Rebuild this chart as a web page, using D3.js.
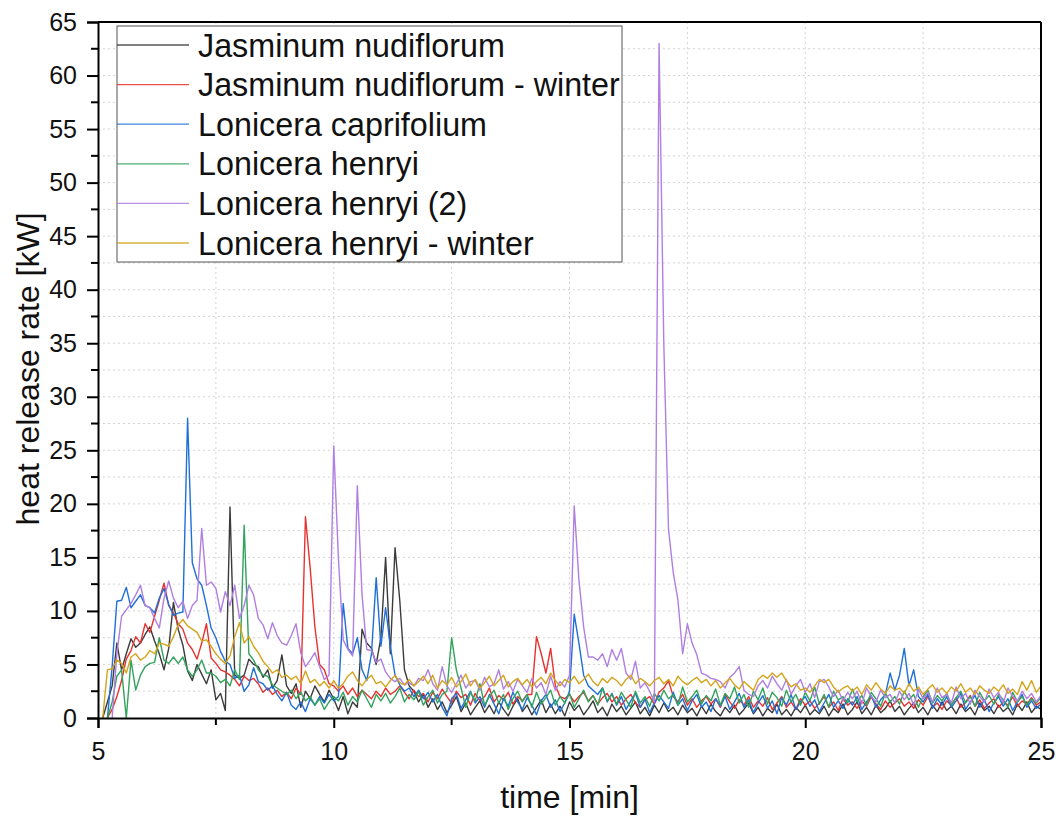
<!DOCTYPE html>
<html><head><meta charset="utf-8">
<script src="https://cdn.jsdelivr.net/npm/d3@7"></script>
<style>
html,body{margin:0;padding:0;background:#fff;}
svg{display:block;font-family:"Liberation Sans",Arial,sans-serif;}
</style></head><body>
<svg id="chart" width="1060" height="818"></svg>
<script>
// sampling grid: 5.0 … 25.0 min, every 0.1 min (one row = one minute)
const tStart = 5.0, tStep = 0.1;

const seriesNames = ["Jasminum nudiflorum","Jasminum nudiflorum - winter","Lonicera caprifolium","Lonicera henryi","Lonicera henryi (2)","Lonicera henryi - winter"];
const seriesColors = ["#3b3b3b","#e8322f","#1f6fd9","#31a35c","#b07fe2","#d4a41c"];

const jasminum = [
 null,0,1.5,3.0,7.0,4.5,6.0,7.4,6.6,7.0,
 7.8,8.5,7.2,6.0,4.5,6.5,10.8,8.3,6.8,4.4,
 3.5,5.0,4.1,3.2,4.5,1.7,2.3,0.7,19.7,4.0,
 3.7,4.0,5.5,5.0,4.8,3.8,4.5,2.8,3.5,5.9,
 3.0,2.3,3.2,1.0,2.5,1.8,3.0,2.2,1.5,2.6,
 1.8,0.7,2.0,0.4,1.5,1.0,8.3,7.0,6.5,5.0,
 7.5,15.0,6.0,15.9,11.0,4.5,3.0,2.5,1.5,2.2,
 1.0,1.8,0.8,1.5,0.5,1.2,2.0,0.6,1.4,0.3,
 1.0,1.6,0.5,1.2,0.4,1.5,0.8,0.2,1.1,1.8,
 0.6,1.2,0.3,1.0,1.7,0.5,1.3,0.4,1.1,0.2,
 1.5,0.7,1.2,0.3,0.9,1.6,0.5,1.0,0.2,1.3,
 0.6,1.1,0.3,0.9,1.5,0.4,1.0,0.2,1.2,0.5,
 1.4,0.6,1.0,0.3,1.2,0.5,0.9,0.2,1.1,0.4,
 1.3,0.6,0.2,1.0,0.5,1.2,0.3,0.8,1.4,0.4,
 1.0,0.2,0.9,0.5,1.3,0.3,0.8,0.2,1.0,0.5,
 1.2,0.3,0.8,0.4,1.1,0.2,0.9,0.5,1.3,0.3,
 0.8,1.5,0.4,1.0,0.3,1.2,0.5,0.9,1.6,0.6,
 1.1,0.3,0.9,1.4,0.5,1.0,0.3,1.2,0.6,1.5,
 0.7,1.1,0.4,1.3,0.6,1.0,0.3,1.4,0.7,1.1,
 0.4,1.2,0.6,1.0,0.3,1.3,0.7,1.5,0.5,1.1,
 0.8];

const jasminumWinter = [
 null,null,0,0.8,2.0,3.5,5.5,6.3,7.6,7.0,
 8.8,8.0,9.5,11.0,12.6,10.5,9.8,8.8,8.3,7.0,
 6.4,5.5,7.0,8.8,5.6,5.1,4.5,4.3,4.0,3.6,
 3.0,3.9,3.5,3.7,3.2,2.4,2.8,2.2,2.6,2.0,
 2.4,1.8,2.8,2.2,18.8,14.0,8.5,5.0,4.5,3.2,
 3.0,2.5,3.0,2.2,2.8,2.0,2.6,2.2,1.8,2.5,
 2.0,2.8,2.2,2.5,3.0,2.4,1.8,2.6,2.0,2.3,
 1.5,2.4,1.8,2.7,2.0,1.4,2.5,1.9,2.2,1.2,
 2.3,1.6,2.0,2.8,1.5,2.1,1.7,2.4,1.3,2.0,
 1.6,2.2,2.2,7.6,6.0,4.2,6.5,3.0,2.0,1.8,
 2.2,1.5,2.0,2.4,1.6,2.1,1.3,1.9,2.3,1.5,
 2.0,1.2,1.8,2.2,1.4,1.0,1.7,2.0,1.3,2.4,
 2.8,3.5,2.0,1.5,2.2,1.2,1.8,1.0,1.6,2.0,
 1.3,1.8,1.0,2.2,1.5,0.9,1.7,1.2,2.0,1.0,
 1.6,1.1,1.9,0.8,1.4,2.0,1.0,1.5,0.8,1.8,
 1.2,1.6,0.9,1.4,2.0,1.0,1.5,0.7,1.8,1.2,
 1.5,0.9,1.6,1.1,2.0,1.3,0.8,1.6,1.0,1.4,
 1.8,1.1,1.5,0.9,1.7,1.2,2.0,1.0,1.4,0.8,
 1.6,1.2,1.9,1.0,1.5,2.1,1.1,1.7,0.9,1.4,
 1.8,1.0,1.5,1.2,2.0,1.1,1.6,1.3,1.9,1.2,
 1.5];

const caprifolium = [
 null,null,0,4.8,10.9,11.0,12.2,10.3,10.9,11.5,
 10.5,10.3,9.8,11.2,12.1,10.6,9.6,9.8,9.9,28.0,
 14.5,13.0,12.4,10.5,8.4,7.5,6.2,5.3,5.0,3.7,
 4.0,2.5,3.1,4.7,3.4,3.2,2.6,3.0,2.2,1.6,
 2.4,1.2,0.8,1.5,0.6,1.8,1.2,2.0,1.4,2.2,
 1.6,2.0,10.7,6.5,6.0,7.5,4.5,3.5,6.0,13.1,
 6.7,10.3,6.7,4.0,3.1,2.5,2.8,2.0,2.6,1.8,
 2.4,1.5,2.2,1.0,0.2,1.8,2.3,0.9,1.7,2.5,
 1.4,2.0,1.0,2.2,1.3,0.4,1.8,1.1,2.4,1.5,
 0.8,1.9,1.2,0.3,1.6,2.2,1.0,1.7,0.6,1.4,
 2.5,9.7,7.0,4.0,3.0,2.6,2.2,2.8,1.5,2.3,
 1.2,2.0,0.8,1.6,2.3,1.0,1.8,0.5,1.4,2.1,
 1.5,0.9,2.4,1.2,1.8,0.7,1.6,2.2,1.0,1.5,
 0.6,1.8,1.1,2.0,0.8,1.5,2.3,1.0,1.7,0.5,
 1.4,2.1,0.9,1.6,0.4,1.9,1.2,2.2,0.8,1.5,
 2.0,1.1,1.7,0.6,1.4,2.2,1.0,1.6,0.9,1.8,
 1.2,2.0,0.8,1.5,2.1,1.0,1.7,2.2,4.2,2.6,
 4.0,6.5,3.0,4.5,2.0,1.5,2.2,0.9,1.8,1.2,
 2.0,1.0,1.6,2.3,0.8,1.5,2.1,1.0,1.7,0.6,
 1.4,2.0,1.1,1.8,0.7,1.5,2.2,1.0,1.6,0.9,
 1.3];

const henryi = [
 null,null,0,1.5,3.9,4.5,0.0,5.4,2.6,4.0,
 4.8,5.1,5.2,7.5,5.4,5.1,5.7,5.1,5.7,4.5,
 3.9,4.5,5.4,4.2,4.2,3.9,3.3,3.6,3.0,4.5,
 3.6,18.0,6.0,5.4,4.5,4.0,3.9,3.1,2.8,2.5,
 2.2,2.6,1.8,2.4,1.6,2.0,1.2,1.8,0.8,1.5,
 2.0,1.6,2.4,1.2,2.0,1.5,2.6,1.8,1.0,2.2,
 1.6,2.3,1.4,2.0,2.8,1.5,2.2,1.7,2.5,1.2,
 2.0,2.6,1.4,2.2,2.5,7.5,4.5,2.8,1.0,2.4,
 1.6,3.2,1.2,2.0,2.6,1.4,2.2,0.8,1.8,2.5,
 1.5,2.2,1.0,2.4,1.3,1.9,2.6,1.2,2.0,1.4,
 2.3,1.0,1.8,2.6,1.5,2.1,1.2,2.8,1.6,2.2,
 1.3,2.4,1.7,1.0,2.5,1.4,2.0,1.1,2.3,1.6,
 2.6,1.8,2.2,1.2,2.9,1.5,2.0,2.6,1.3,2.1,
 1.6,2.7,1.2,2.3,1.8,2.9,1.4,2.2,1.0,2.5,
 1.7,2.8,1.3,2.4,1.9,1.1,2.6,1.5,2.2,1.2,
 2.4,1.6,2.9,1.3,2.2,1.0,2.5,1.7,2.0,1.4,
 2.7,1.5,2.1,1.2,2.4,1.8,1.1,2.3,1.5,2.0,
 1.3,2.5,1.7,2.2,1.0,2.0,2.6,1.4,2.1,1.6,
 2.3,1.2,1.9,2.5,1.4,2.0,1.1,2.4,1.6,2.1,
 1.3,2.2,1.7,1.0,2.4,1.5,2.0,1.2,1.8,1.4,
 1.9];

const henryi2 = [
 null,null,null,0,6.0,9.5,10.1,10.7,11.5,12.4,
 10.5,10.3,9.3,8.4,11.2,12.8,11.2,10.3,10.9,9.3,
 10.5,11.0,17.7,12.4,12.7,12.1,9.9,11.8,10.5,12.4,
 9.3,10.5,12.4,11.5,9.3,8.7,7.4,8.9,7.7,7.0,
 6.8,7.7,8.8,6.1,4.8,5.4,6.1,4.8,3.6,4.0,
 25.4,14.8,7.3,6.4,5.8,21.7,11.5,6.4,6.3,5.2,
 5.5,4.3,3.7,3.4,3.7,3.1,3.3,3.0,3.7,3.5,
 4.5,3.2,2.6,4.8,3.0,2.4,3.2,4.0,2.8,3.4,
 3.5,2.6,3.8,2.9,3.2,4.5,2.7,3.4,2.5,3.6,
 3.0,2.4,3.7,2.8,3.3,2.2,3.9,2.6,3.4,2.9,
 4.0,19.8,12.9,8.5,5.7,5.7,5.4,6.0,4.8,6.4,
 5.4,6.5,4.2,3.6,5.3,2.8,3.3,2.5,1.5,63.0,
 35.0,17.6,13.6,11.0,6.0,8.8,7.0,5.9,4.2,4.0,
 3.7,3.6,3.4,2.8,3.8,4.2,4.8,2.6,2.2,2.0,
 3.0,3.5,2.8,3.9,3.2,2.6,3.6,2.2,3.0,3.6,
 2.4,3.2,1.9,3.4,3.6,2.9,2.0,2.6,1.6,2.4,
 1.8,2.5,1.3,2.8,2.0,1.5,2.6,1.9,2.2,1.4,
 2.5,1.7,2.3,1.2,2.7,1.8,2.4,1.5,2.8,1.9,
 2.2,1.4,2.9,1.8,2.3,1.3,2.6,2.0,1.5,2.7,
 1.9,2.4,1.4,2.8,2.0,1.6,2.5,1.8,2.3,1.5,
 2.1];

const henryiWinter = [
 null,0,4.5,4.6,5.4,5.1,4.2,5.7,6.0,5.4,
 5.7,6.3,6.0,7.0,6.9,6.7,7.6,8.7,9.2,8.6,
 8.3,8.0,7.2,7.3,6.7,6.0,5.5,5.1,5.8,7.6,
 8.9,7.0,7.6,6.7,6.1,5.3,4.8,4.2,4.5,3.8,
 4.0,3.6,3.9,3.2,4.4,3.3,3.6,3.0,3.4,2.8,
 3.5,2.8,3.2,3.9,4.3,3.5,3.0,3.6,4.0,3.2,
 3.4,2.9,3.5,4.0,3.3,3.1,3.6,3.0,3.4,3.9,
 3.2,4.0,2.8,3.5,3.1,3.8,2.9,3.4,4.1,3.0,
 3.6,2.8,3.3,3.9,3.0,3.5,4.0,2.9,3.4,3.7,
 3.1,3.6,2.9,3.4,3.8,3.2,4.2,3.5,3.0,3.6,
 3.3,3.9,3.2,3.6,4.1,3.4,3.0,3.7,3.3,3.8,
 3.5,3.0,3.6,4.0,3.2,3.7,3.4,3.0,3.5,3.8,
 3.2,3.6,3.0,3.9,3.4,3.1,3.5,3.8,3.3,3.6,
 3.0,3.5,2.8,3.3,3.7,3.1,2.7,3.4,3.0,2.6,
 3.6,4.0,3.7,4.2,3.8,4.2,3.5,2.9,3.2,2.6,
 2.8,2.4,3.0,3.6,3.3,3.6,2.9,2.4,2.8,3.0,
 2.5,2.9,2.2,3.1,2.6,3.3,2.7,2.3,3.0,2.6,
 2.8,2.3,3.2,2.5,2.9,2.2,2.7,3.1,2.4,2.8,
 2.3,2.9,2.5,3.2,2.4,2.8,2.2,3.0,2.6,2.3,
 2.9,2.5,3.1,2.3,2.7,2.2,3.4,2.6,3.5,2.4,
 3.0];

const xTickValues = [5,10,15,20,25];
const yTickValues = [0,5,10,15,20,25,30,35,40,45,50,55,60,65];
const xTitle = "time [min]";
const yTitle = "heat release rate [kW]";

const allSeries = [jasminum, jasminumWinter, caprifolium, henryi, henryi2, henryiWinter];

const svg = d3.select("#chart");
const L = 98, R = 1041, T = 22, B = 718;
const x = d3.scaleLinear().domain([5,25]).range([L,R]);
const y = d3.scaleLinear().domain([0,65]).range([B,T]);

// grid (every 2.5 units)
const gx = d3.range(7.5, 25, 2.5), gy = d3.range(2.5, 65, 2.5);
svg.append("g").selectAll("line").data(gx).join("line")
  .attr("x1",d=>x(d)).attr("x2",d=>x(d)).attr("y1",T).attr("y2",B)
  .attr("stroke","#d4d4d4").attr("stroke-width",1).attr("stroke-dasharray","2,3");
svg.append("g").selectAll("line").data(gy).join("line")
  .attr("y1",d=>y(d)).attr("y2",d=>y(d)).attr("x1",L).attr("x2",R)
  .attr("stroke","#d4d4d4").attr("stroke-width",1).attr("stroke-dasharray","2,3");

// series
const line = d3.line()
  .defined(d => d[1] != null)
  .x(d => x(d[0])).y(d => y(d[1]));
allSeries.forEach((s, k) => {
  const pts = s.map((v, i) => [tStart + i * tStep, v]);
  svg.append("path").datum(pts).attr("d", line)
    .attr("fill","none").attr("stroke", seriesColors[k])
    .attr("stroke-width",1.4).attr("stroke-linejoin","round");
});

// frame
svg.append("line").attr("x1",L).attr("x2",R).attr("y1",T).attr("y2",T).attr("stroke","#000").attr("stroke-width",2);
svg.append("line").attr("x1",R).attr("x2",R).attr("y1",T).attr("y2",B).attr("stroke","#000").attr("stroke-width",2);

// axes
const xAxis = svg.append("g").attr("transform",`translate(0,${B})`)
  .call(d3.axisBottom(x).tickValues(xTickValues).tickSize(10).tickPadding(14).tickFormat(d3.format("d")));
const yAxis = svg.append("g").attr("transform",`translate(${L},0)`)
  .call(d3.axisLeft(y).tickValues(yTickValues).tickSize(11).tickPadding(10).tickFormat(d3.format("d")));
[xAxis, yAxis].forEach(a => {
  a.select(".domain").attr("stroke","#000").attr("stroke-width",2);
  a.selectAll(".tick line").attr("stroke","#000").attr("stroke-width",2);
  a.selectAll(".tick text").attr("font-size",25).attr("font-family","Liberation Sans, Arial, sans-serif").attr("fill","#111");
});
// minor ticks
svg.append("g").selectAll("line").data(d3.range(7.5,25,5)).join("line")
  .attr("x1",d=>x(d)).attr("x2",d=>x(d)).attr("y1",B).attr("y2",B+7)
  .attr("stroke","#000").attr("stroke-width",2);
svg.append("g").selectAll("line").data(d3.range(2.5,65,5)).join("line")
  .attr("y1",d=>y(d)).attr("y2",d=>y(d)).attr("x1",L-7).attr("x2",L)
  .attr("stroke","#000").attr("stroke-width",2);

// titles
svg.append("text").attr("x", x(15)).attr("y", 808).attr("text-anchor","middle")
  .attr("font-size",32).attr("fill","#111").text(xTitle);
svg.append("text").attr("transform",`translate(39,${y(32.6)}) rotate(-90)`).attr("text-anchor","middle")
  .attr("font-size",32).attr("fill","#111").text(yTitle);

// legend
const lg = svg.append("g");
lg.append("rect").attr("x",117).attr("y",26).attr("width",505).attr("height",236)
  .attr("fill","#fff").attr("stroke","#555").attr("stroke-width",1);
seriesNames.forEach((n, k) => {
  const yy = 45 + k * 39.6;
  lg.append("line").attr("x1",117).attr("x2",189).attr("y1",yy).attr("y2",yy)
    .attr("stroke",seriesColors[k]).attr("stroke-width",1.3).attr("opacity",0.85);
  lg.append("text").attr("x",198).attr("y",yy).attr("dy","0.36em")
    .attr("font-size",32.3).attr("fill","#111").text(n);
});
</script>
</body></html>
